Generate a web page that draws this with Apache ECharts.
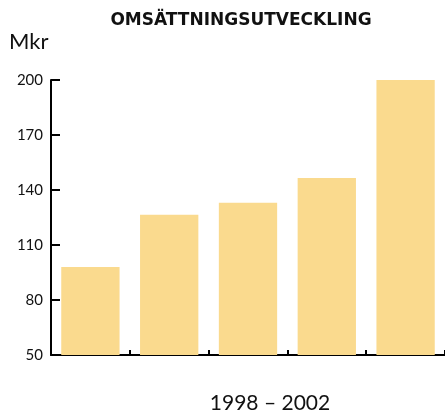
<!DOCTYPE html>
<html>
<head>
<meta charset="utf-8">
<script src="https://cdn.jsdelivr.net/npm/echarts@6/dist/echarts.min.js"></script>
<style>
html,body{margin:0;padding:0;background:#fff;}
#chart{width:445px;height:414px;}
</style>
</head>
<body>
<div id="chart"></div>
<script>
const titleText = 'OMSÄTTNINGSUTVECKLING';
const unitText = 'Mkr';
const periodText = '1998 – 2002';
const categories = ['1998', '1999', '2000', '2001', '2002'];
const values = [98, 126.5, 133, 146.5, 200];
const yTicks = [50, 80, 110, 140, 170, 200];

const chart = echarts.init(document.getElementById('chart'), null, {renderer: 'canvas'});
chart.setOption({
  animation: false,
  backgroundColor: '#ffffff',
  grid: {left: 51, right: 0, top: 80, bottom: 59, containLabel: false},
  graphic: [
    {type: 'text', x: 241, y: 12, style: {text: titleText, fill: '#111', font: 'bold 17px "DejaVu Sans"', textAlign: 'center'}},
    {type: 'text', x: 9, y: 31, style: {text: unitText, fill: '#111', font: '22px Lato', textAlign: 'left'}},
    {type: 'text', x: 270, y: 393, style: {text: periodText, fill: '#111', font: '21px Lato', textAlign: 'center'}}
  ],
  xAxis: {
    type: 'category',
    data: categories,
    axisLine: {lineStyle: {color: '#000', width: 2}},
    axisTick: {show: true, inside: true, length: 5, lineStyle: {color: '#000', width: 2}},
    axisLabel: {show: false}
  },
  yAxis: {
    type: 'value',
    min: yTicks[0],
    max: yTicks[yTicks.length - 1],
    interval: yTicks[1] - yTicks[0],
    splitLine: {show: false},
    axisLine: {show: true, lineStyle: {color: '#000', width: 2}},
    axisTick: {show: true, inside: true, length: 9, lineStyle: {color: '#000', width: 2}},
    axisLabel: {color: '#111', fontSize: 15, fontFamily: 'Lato', margin: 8}
  },
  series: [{
    type: 'bar',
    data: values,
    barCategoryGap: '26%',
    itemStyle: {color: '#FADA8E'}
  }]
});
</script>
</body>
</html>
